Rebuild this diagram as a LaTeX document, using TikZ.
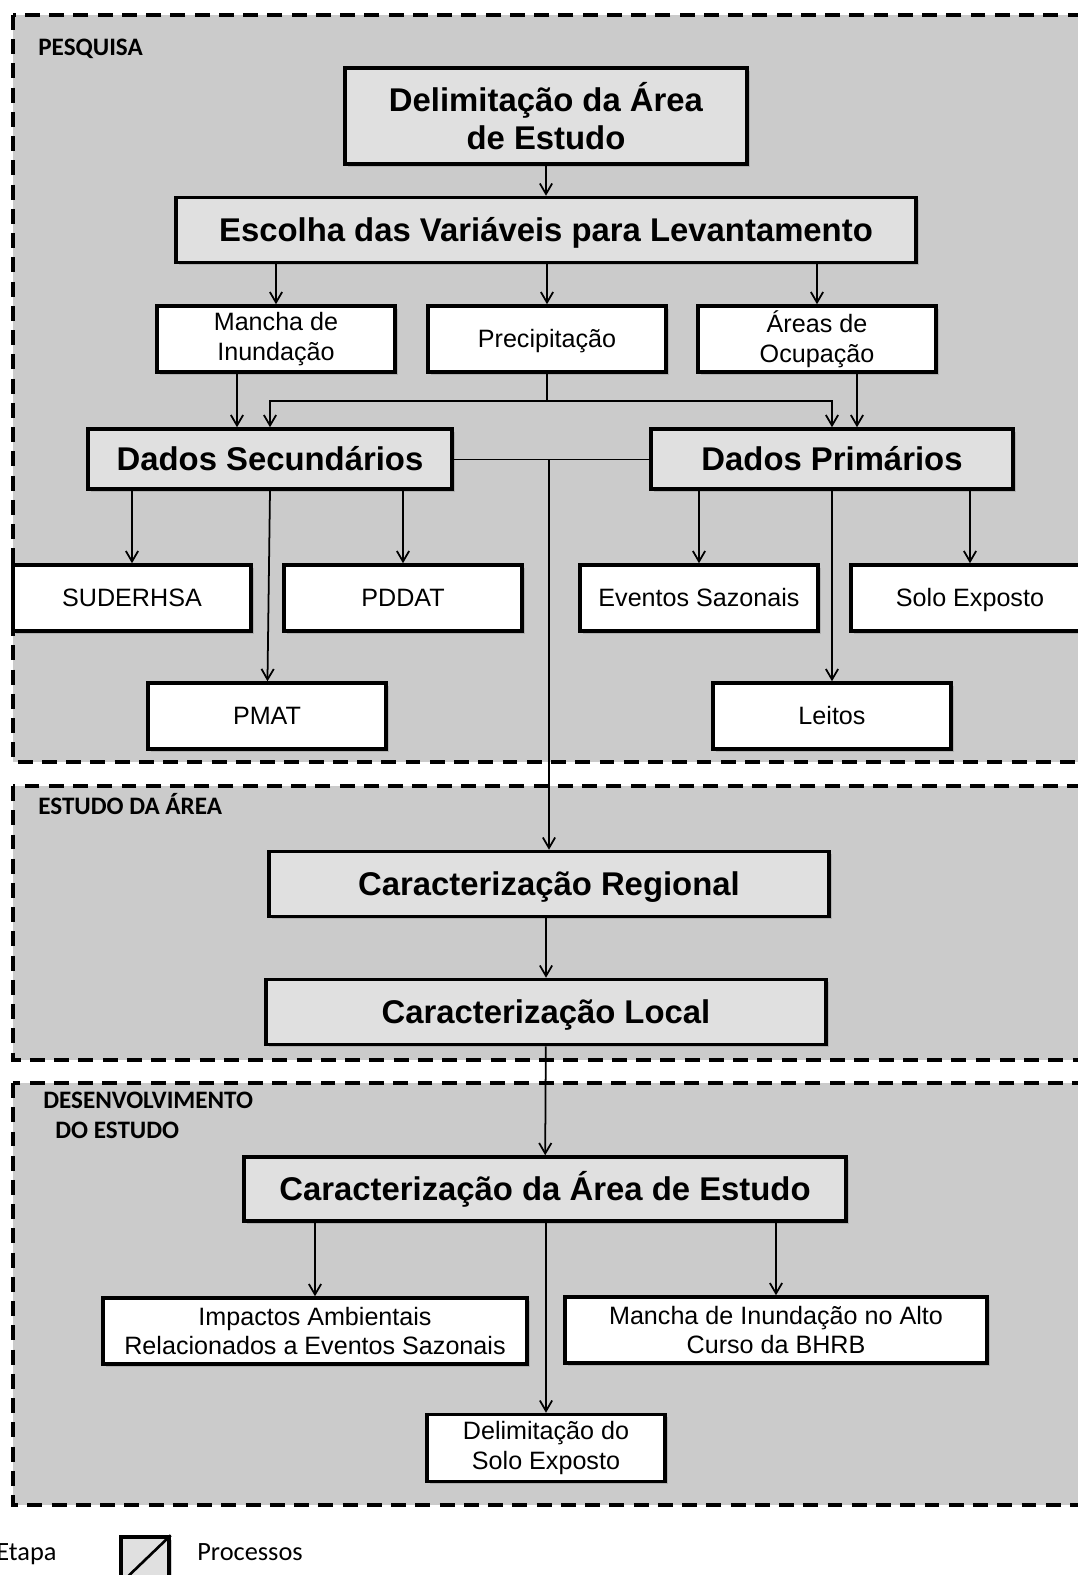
\documentclass[tikz,border=0pt]{standalone}
\usepackage{fontspec}
\setmainfont{Liberation Sans}
\newfontfamily\calibri{Carlito}
\usepackage{xcolor}
\usepackage{tikz}
\usetikzlibrary{positioning,arrows.meta,shadows}
\definecolor{stagegray}{HTML}{CBCBCB}
\definecolor{boxgray}{HTML}{E0E0E0}

\begin{document}
\begin{tikzpicture}[x=0.02cm, y=-0.02cm, >={Straight Barb[length=6pt,width=7pt]}]
    \tikzstyle{stage} = [draw, fill=stagegray, line width=2pt, dash pattern=on 8.5pt off 5.3pt]
    \tikzstyle{stagelabel} = [anchor=base west, inner sep=0, font=\calibri\bfseries\fontsize{14.3}{17}\selectfont]
    \tikzstyle{bigbox} = [draw, rectangle, fill=boxgray, line width=2pt, inner sep=0, align=center, drop shadow={shadow xshift=1.5pt, shadow yshift=-1.5pt, opacity=0.35}, font=\bfseries\fontsize{18.7}{22}\selectfont]
    \tikzstyle{smallbox} = [draw, rectangle, fill=white, line width=2pt, inner sep=0, align=center, minimum width=4.76cm, minimum height=1.32cm, drop shadow={shadow xshift=1.5pt, shadow yshift=-1.5pt, opacity=0.35}, font=\fontsize{14.3}{17}\selectfont]
    \tikzstyle{oneline} = [text height=12.5pt, text depth=3pt]
    \tikzstyle{bigline} = [text height=16.5pt, text depth=3.5pt]
    \tikzstyle{arrow} = [->, line width=1pt]

    \useasboundingbox (0,0) rectangle (1078,1575);

    % etapas
    \draw[stage] (13,15) rectangle (1110,762);
    \draw[stage] (13,786) rectangle (1110,1060);
    \draw[stage] (13,1083) rectangle (1110,1505);
    \node[stagelabel] (pesquisa) at (38,56) {PESQUISA};
    \node[stagelabel] (estudo) at (38,814) {ESTUDO DA ÁREA};
    \node[stagelabel] (desenv) at (43,1108) {DESENVOLVIMENTO};
    \node[stagelabel] (doestudo) at (55,1138) {DO ESTUDO};

    % pesquisa
    \node[bigbox, minimum width=8.04cm, minimum height=1.92cm] (delim) at (546,116) {Delimitação da Área\\de Estudo};
    \node[bigbox, bigline, minimum width=14.8cm, minimum height=1.3cm] (escolha) at (546,230) {Escolha das Variáveis para Levantamento};
    \node[smallbox] (mancha) at (276,339) {Mancha de\\Inundação};
    \node[smallbox, oneline] (precip) at (547,339) {Precipitação};
    \node[smallbox] (areas) at (817,339) {Áreas de\\Ocupação};
    \node[bigbox, bigline, minimum width=7.28cm, minimum height=1.2cm] (dsec) at (270,459) {Dados Secundários};
    \node[bigbox, bigline, minimum width=7.24cm, minimum height=1.2cm] (dprim) at (832,459) {Dados Primários};
    \node[smallbox, oneline] (suderhsa) at (132,598) {SUDERHSA};
    \node[smallbox, oneline] (pddat) at (403,598) {PDDAT};
    \node[smallbox, oneline] (pmat) at (267,716) {PMAT};
    \node[smallbox, oneline] (eventos) at (699,598) {Eventos Sazonais};
    \node[smallbox, oneline] (soloexp) at (970,598) {Solo Exposto};
    \node[smallbox, oneline] (leitos) at (832,716) {Leitos};

    % estudo da area
    \node[bigbox, bigline, minimum width=11.2cm, minimum height=1.3cm] (regional) at (549,884) {Caracterização Regional};
    \node[bigbox, bigline, minimum width=11.2cm, minimum height=1.3cm] (local) at (546,1012) {Caracterização Local};

    % desenvolvimento
    \node[bigbox, bigline, minimum width=12.04cm, minimum height=1.28cm] (carea) at (545,1189) {Caracterização da Área de Estudo};
    \node[smallbox, minimum width=8.48cm] (impactos) at (315,1331) {Impactos Ambientais\\Relacionados a Eventos Sazonais};
    \node[smallbox, minimum width=8.44cm] (manchaalto) at (776,1330) {Mancha de Inundação no Alto\\Curso da BHRB};
    \node[smallbox, minimum height=1.34cm] (delsolo) at (546,1448) {Delimitação do\\Solo Exposto};

    % legenda
    \node[anchor=base west, inner sep=0, font=\calibri\fontsize{15}{18}\selectfont] (etapa) at (-4,1560) {Etapa};
    \node[draw, fill=boxgray, line width=2pt, minimum width=0.96cm, minimum height=0.92cm, inner sep=0, drop shadow={shadow xshift=1.5pt, shadow yshift=-1.5pt, opacity=0.35}] (legbox) at (145,1560) {};
    \draw[line width=1.5pt] (legbox.south west) -- (legbox.north east);
    \node[anchor=base west, inner sep=0, font=\calibri\fontsize{15}{18}\selectfont] (processos) at (197,1560) {Processos};

    % conexoes
    \draw[arrow] (delim) -- (escolha);
    \draw[arrow] (escolha.south -| mancha) -- (mancha);
    \draw[arrow] (escolha.south -| precip) -- (precip);
    \draw[arrow] (escolha.south -| areas) -- (areas);
    \draw[arrow] ([xshift=-0.78cm]mancha.south) -- ([xshift=-0.78cm]mancha.south |- dsec.north);
    \draw[arrow] ([xshift=0.8cm]areas.south) -- ([xshift=0.8cm]areas.south |- dprim.north);
    \draw[arrow] (precip.south) -- ++(0,27) -| (dsec);
    \draw[arrow] (precip.south) -- ++(0,27) -| (dprim);
    \draw (dsec) -- (dprim);
    \draw[arrow] (dsec.east -| regional.north) -- (regional);
    \draw[arrow] (dsec.south -| suderhsa) -- (suderhsa);
    \draw[arrow] (dsec.south -| pddat) -- (pddat);
    \draw[arrow] (dsec.south) -- (pmat);
    \draw[arrow] (dprim.south -| eventos) -- (eventos);
    \draw[arrow] (dprim.south -| leitos) -- (leitos);
    \draw[arrow] (dprim.south -| soloexp) -- (soloexp);
    \draw[arrow] (regional.south -| local) -- (local);
    \draw[arrow] (local) -- (carea);
    \draw[arrow] (carea.south -| impactos) -- (impactos);
    \draw[arrow] (carea.south -| delsolo) -- (delsolo);
    \draw[arrow] (carea.south -| manchaalto) -- (manchaalto);
\end{tikzpicture}
\end{document}
